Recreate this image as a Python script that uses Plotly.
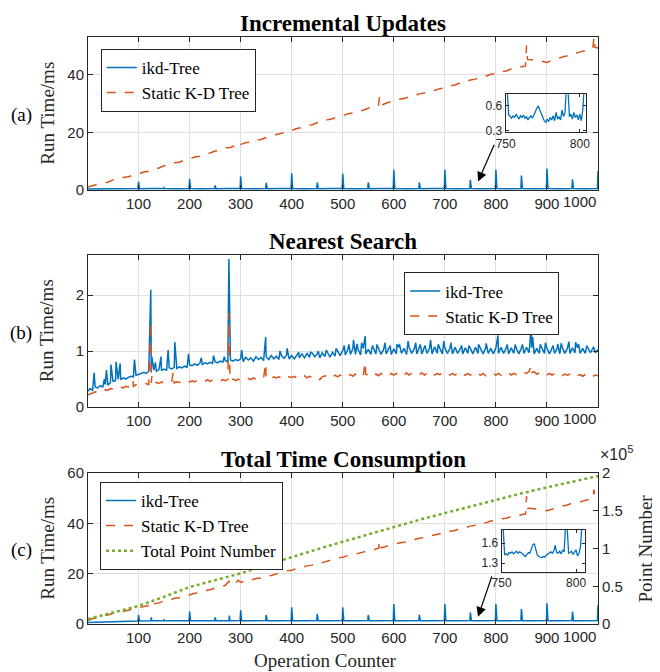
import plotly.graph_objects as go

# ---------------- data ----------------
# (a) Incremental updates
upd_ikd = [(1,0.35),(25,0.4),(50,0.42),(75,0.45),(98,0.45),(99,0.5),(100,2.9),(101,1.6),(102,0.45),
 (125,0.48),(148,0.45),(149,0.5),(150,0.8),(151,0.5),(175,0.46),(198,0.47),(199,0.5),(200,3.9),(201,2.2),(202,0.47),
 (225,0.45),(248,0.46),(249,0.5),(250,1.6),(251,0.9),(252,0.46),(275,0.47),(298,0.46),(299,0.5),(300,4.7),(301,2.6),(302,0.47),
 (325,0.45),(348,0.47),(349,0.5),(350,2.5),(351,1.4),(352,0.46),(375,0.48),(398,0.46),(399,0.5),(400,5.8),(401,3.2),(402,0.47),
 (425,0.45),(448,0.47),(449,0.5),(450,2.6),(451,1.4),(452,0.46),(475,0.47),(498,0.46),(499,0.5),(500,5.7),(501,3.1),(502,0.47),
 (525,0.46),(548,0.47),(549,0.5),(550,2.6),(551,1.4),(552,0.46),(575,0.48),(598,0.46),(599,0.5),(600,7.0),(601,3.8),(602,0.47),
 (625,0.46),(648,0.47),(649,0.5),(650,2.6),(651,1.4),(652,0.46),(675,0.47),(698,0.46),(699,0.5),(700,7.0),(701,3.8),(702,0.47),
 (725,0.46),(748,0.47),(749,0.5),(750,3.5),(751,1.9),(752,0.47),(775,0.45),(798,0.46),(799,0.5),(800,7.0),(801,3.8),(802,0.47),
 (825,0.46),(848,0.47),(849,0.5),(850,5.0),(851,2.7),(852,0.47),(875,0.46),(898,0.47),(899,0.5),(900,7.4),(901,4.0),(902,0.47),
 (925,0.46),(948,0.47),(949,0.5),(950,3.7),(951,2.0),(952,0.47),(975,0.46),(998,0.47),(999,0.5),(1000,6.5)]

upd_static = [(1,1.0),(10,1.5),(20,1.8),(30,2.5),(40,2.7),(50,3.5),(60,3.7),(70,4.3),(80,4.6),(90,5.2),(100,5.5),
 (110,6.2),(120,6.5),(130,7.2),(140,7.6),(150,8.4),(160,8.6),(170,9.4),(180,9.6),(190,10.4),(200,10.7),
 (210,11.4),(220,11.7),(230,12.5),(240,12.8),(250,13.5),(260,13.8),(270,14.6),(280,14.7),(290,15.4),(295,16.6),(300,15.8),
 (310,16.4),(320,16.6),(330,17.3),(340,17.5),(350,18.2),(360,18.5),(370,19.2),(380,19.6),(390,20.3),(400,20.6),
 (410,21.3),(420,21.6),(430,22.3),(440,22.6),(450,23.3),(460,23.6),(470,24.3),(480,24.7),(490,25.4),(500,25.7),
 (510,26.4),(520,26.7),(530,27.3),(540,27.6),(550,28.3),(560,28.6),(570,29.3),(572,32.2),(574,29.5),(580,29.7),(590,30.4),(600,30.7),
 (610,31.4),(620,31.7),(630,32.3),(640,32.6),(650,33.3),(660,33.6),(670,34.2),(680,34.5),(690,35.1),(700,35.4),
 (710,36.1),(720,36.4),(730,37.1),(740,37.4),(750,38.1),(760,38.4),(770,39.1),(780,39.4),(790,40.1),(800,40.4),
 (810,41.0),(820,41.2),(830,41.9),(840,42.1),(850,42.7),(858,43.0),(860,50.0),(862,45.2),(870,45.1),(880,44.7),(890,44.6),(900,44.2),
 (910,44.9),(920,45.3),(930,46.1),(940,46.5),(950,47.3),(960,47.5),(970,48.1),(980,48.4),(990,49.1),(992,53.0),(994,49.4),(1000,49.2)]

inset_a_x = list(range(750, 805))
inset_a_y = [0.85,0.80,0.49,0.47,0.45,0.48,0.46,0.50,0.47,0.44,0.48,0.46,0.49,0.45,0.47,0.43,0.46,0.48,0.45,0.50,
             0.53,0.57,0.60,0.55,0.50,0.47,0.42,0.40,0.44,0.41,0.46,0.43,0.48,0.42,0.52,0.44,0.47,0.43,0.55,0.47,
             0.52,0.85,0.80,0.47,0.50,0.44,0.52,0.46,0.49,0.43,0.50,0.42,0.55,0.85,0.80]

# (b) Nearest search, sampled every 5 operations plus individual spikes
search_x = [1] + list(range(5, 1001, 5))
search_ikd = [0.28,
 0.33,0.30,0.36,0.34,0.38,0.36,0.40,0.39,0.44,0.46, 0.47,0.50,0.49,0.52,0.50,0.53,0.55,0.54,0.57,0.58,
 0.60,0.62,0.60,0.64,0.63,0.66,0.64,0.67,0.65,0.68, 0.66,0.70,0.68,0.71,0.69,0.72,0.70,0.73,0.71,0.75,
 0.74,0.77,0.75,0.78,0.76,0.79,0.77,0.80,0.78,0.81, 0.79,0.82,0.80,0.83,0.81,0.84,0.82,0.85,0.83,0.86,
 0.81,0.89,0.84,0.88,0.82,0.90,0.85,0.89,0.83,0.90, 0.85,0.92,0.86,0.91,0.85,0.92,0.87,0.93,0.86,0.92,
 0.86,0.93,0.88,0.95,0.88,0.96,0.89,0.97,0.90,0.95, 0.88,0.97,0.90,0.98,0.89,0.98,0.91,0.99,0.92,1.01,
 0.93,1.03,0.94,1.05,0.94,1.03,0.93,1.05,0.95,1.03, 0.94,1.05,0.95,1.06,0.94,1.03,0.95,1.06,0.94,1.04,
 0.95,1.07,0.96,1.05,0.94,1.07,0.96,1.04,0.95,1.06, 0.95,1.07,0.96,1.05,0.95,1.08,0.96,1.05,0.95,1.06,
 0.96,1.05,0.95,1.07,0.96,1.04,0.95,1.06,0.96,1.05, 0.95,1.07,0.96,1.05,0.95,1.06,0.96,1.05,0.95,1.06,
 0.96,1.07,0.96,1.05,0.95,1.06,0.96,1.05,0.95,1.06, 0.96,1.07,0.97,1.06,0.95,1.05,0.96,1.06,0.96,1.05,
 0.95,1.06,0.96,1.05,0.95,1.07,0.96,1.05,0.96,1.06, 0.97,1.06,0.96,1.05,0.96,1.07,0.97,1.05,0.97,1.03]
search_static = [0.22,
 0.24,0.25,0.27,0.26,0.29,0.28,0.31,0.30,0.33,0.32, 0.34,0.33,0.36,0.34,0.37,0.36,0.38,0.37,0.40,0.39,
 0.41,0.40,0.42,0.40,0.43,0.41,0.44,0.42,0.45,0.42, 0.44,0.43,0.46,0.43,0.45,0.44,0.46,0.44,0.47,0.45,
 0.47,0.45,0.48,0.46,0.48,0.46,0.49,0.46,0.48,0.47, 0.49,0.46,0.49,0.47,0.49,0.47,0.50,0.47,0.50,0.48,
 0.51,0.49,0.51,0.49,0.52,0.50,0.52,0.50,0.53,0.51, 0.53,0.51,0.54,0.52,0.54,0.52,0.55,0.52,0.54,0.53,
 0.55,0.52,0.55,0.53,0.56,0.52,0.55,0.53,0.56,0.53, 0.49,0.54,0.56,0.54,0.57,0.54,0.57,0.54,0.57,0.55,
 0.58,0.55,0.58,0.55,0.59,0.56,0.58,0.55,0.59,0.56, 0.59,0.56,0.59,0.56,0.60,0.57,0.59,0.56,0.60,0.57,
 0.60,0.57,0.60,0.57,0.61,0.57,0.60,0.58,0.61,0.58, 0.61,0.57,0.60,0.58,0.62,0.57,0.60,0.58,0.61,0.58,
 0.60,0.57,0.60,0.57,0.60,0.56,0.59,0.57,0.60,0.57, 0.60,0.56,0.59,0.57,0.60,0.56,0.59,0.57,0.60,0.57,
 0.60,0.57,0.60,0.58,0.61,0.57,0.60,0.58,0.61,0.59, 0.62,0.60,0.64,0.62,0.63,0.59,0.61,0.58,0.61,0.58,
 0.60,0.57,0.60,0.57,0.59,0.56,0.59,0.57,0.59,0.56, 0.59,0.56,0.58,0.55,0.58,0.55,0.58,0.55,0.57,0.56]
search_ikd_spikes = [(13,0.61),(33,0.50),(37,0.66),(46,0.76),(56,0.81),(64,0.78),(92,0.85),(124,2.1),(126,0.9),
 (133,0.8),(144,0.9),(158,1.02),(171,1.16),(198,0.95),(223,0.88),(247,0.92),(268,0.9),(277,2.65),(279,1.2),
 (302,1.02),(349,1.25),(377,1.0),(391,1.05),(414,0.98),(437,0.98),(452,1.0),(468,1.02),(487,1.05),(503,1.1),
 (512,1.12),(521,1.20),(528,1.13),(537,1.15),(544,1.27),(558,1.1),(567,1.12),(583,1.15),(593,1.1),(606,1.12),
 (611,1.13),(628,1.18),(643,1.15),(652,1.12),(661,1.1),(672,1.20),(687,1.12),(698,1.18),(712,1.15),(733,1.1),
 (747,1.1),(766,1.12),(781,1.14),(804,1.28),(822,1.12),(838,1.12),(852,1.12),(869,1.42),(872,1.25),(887,1.12),
 (897,1.15),(912,1.1),(921,1.13),(928,1.14),(943,1.17),(956,1.16),(962,1.13),(978,1.1),(991,1.08)]
search_static_spikes = [(89,0.48),(124,1.52),(126,0.55),(168,0.62),(277,1.68),(279,0.6),(349,0.78),(544,0.80),(869,0.74)]

# (c) Total time consumption
total_ikd = [(1,0.6),(25,0.7),(50,0.8),(75,0.9),(98,1.1),(99,1.2),(100,3.6),(101,2.0),(102,1.2),(124,1.3),(125,2.6),(126,1.3),
 (148,1.25),(149,1.3),(150,1.9),(151,1.3),(175,1.3),(198,1.25),(199,1.3),(200,5.0),(201,2.8),(202,1.3),(225,1.3),
 (248,1.25),(249,1.3),(250,2.6),(251,1.6),(252,1.3),(277,1.3),(278,3.3),(279,1.3),(298,1.3),(299,1.35),(300,5.5),(301,3.0),(302,1.3),
 (325,1.3),(348,1.3),(349,1.35),(350,3.6),(351,2.0),(352,1.3),(375,1.3),(398,1.3),(399,1.35),(400,6.6),(401,3.6),(402,1.3),
 (425,1.3),(448,1.3),(449,1.35),(450,4.0),(451,2.2),(452,1.3),(475,1.3),(498,1.3),(499,1.35),(500,6.6),(501,3.6),(502,1.3),
 (525,1.3),(548,1.3),(549,1.35),(550,3.6),(551,2.0),(552,1.3),(575,1.3),(598,1.3),(599,1.35),(600,7.9),(601,4.3),(602,1.3),
 (625,1.3),(648,1.3),(649,1.35),(650,3.7),(651,2.0),(652,1.3),(675,1.3),(698,1.3),(699,1.35),(700,7.9),(701,4.3),(702,1.3),
 (725,1.3),(748,1.3),(749,1.35),(750,4.6),(751,2.5),(752,1.3),(775,1.3),(798,1.3),(799,1.35),(800,7.9),(801,4.3),(802,1.3),
 (825,1.3),(848,1.3),(849,1.35),(850,5.9),(851,3.2),(852,1.3),(875,1.3),(898,1.3),(899,1.35),(900,8.2),(901,4.5),(902,1.3),
 (925,1.3),(948,1.3),(949,1.35),(950,4.9),(951,2.7),(952,1.3),(975,1.3),(998,1.3),(999,1.35),(1000,7.5)]

total_static = [(1,1.4),(10,2.2),(20,2.6),(30,3.3),(40,3.6),(50,4.3),(60,4.5),(70,5.1),(80,5.4),(90,6.0),(100,6.3),
 (110,7.0),(120,7.3),(125,8.6),(127,7.5),(130,8.0),(140,8.4),(150,9.2),(160,9.4),(170,10.2),(180,10.4),(190,11.2),(200,11.5),
 (210,12.2),(220,12.5),(230,13.3),(240,13.6),(250,14.3),(260,14.6),(270,15.4),(277,17.0),(279,15.6),(280,15.5),(290,16.2),(295,17.4),(300,16.6),
 (310,17.2),(320,17.4),(330,18.1),(340,18.3),(350,19.0),(360,19.3),(370,20.0),(380,20.4),(390,21.1),(400,21.4),
 (410,22.1),(420,22.4),(430,23.1),(440,23.4),(450,24.1),(460,24.4),(470,25.1),(480,25.5),(490,26.2),(500,26.5),
 (510,27.2),(520,27.5),(530,28.1),(540,28.4),(550,29.1),(560,29.4),(570,30.1),(572,33.0),(574,30.3),(580,30.5),(590,31.2),(600,31.5),
 (610,32.2),(620,32.5),(630,33.1),(640,33.4),(650,34.1),(660,34.4),(670,35.0),(680,35.3),(690,35.9),(700,36.2),
 (710,36.9),(720,37.2),(730,37.9),(740,38.2),(750,38.9),(760,39.2),(770,39.9),(780,40.2),(790,40.9),(800,41.2),
 (810,41.8),(820,42.0),(830,42.7),(840,42.9),(850,43.5),(858,43.8),(860,50.8),(862,46.0),(870,45.9),(880,45.5),(890,45.4),(900,45.0),
 (910,45.7),(920,46.1),(930,46.9),(940,47.3),(950,48.1),(960,48.3),(970,48.9),(980,49.2),(990,49.9),(992,53.4),(994,50.2),(1000,50.0)]

point_x = [1,50,100,150,200,250,300,350,400,450,500,550,600,650,700,750,800,850,900,950,1000]
point_num = [6500,15000,24000,36000,49000,58000,67000,78000,89000,99000,109000,119000,129000,138000,
             147000,156000,165000,173000,181000,189000,196000]

inset_c_x = list(range(750, 806))
inset_c_y = [1.90,1.85,1.43,1.44,1.42,1.46,1.45,1.47,1.44,1.46,1.48,1.45,1.47,1.46,1.44,1.42,1.40,1.43,1.46,1.45,
             1.52,1.58,1.59,1.50,1.42,1.40,1.39,1.38,1.40,1.39,1.42,1.44,1.45,1.47,1.45,1.48,1.57,1.46,1.45,1.48,
             1.44,1.50,1.47,1.90,1.85,1.45,1.46,1.48,1.43,1.46,1.50,1.41,1.45,1.55,1.90,1.85]

x_ticks = [100, 200, 300, 400, 500, 600, 700, 800, 900, 1000]
x_ticktext = ['100', '200', '300', '400', '500', '600', '700', '800', '900', '']
last_tick_label = '1000'

# ---------------- helpers ----------------
BLUE, ORANGE, GREEN = '#0072BD', '#D95319', '#77AC30'
AX = '#262626'
GRID = '#dfdfdf'
SANS = 'Liberation Sans, Arial, sans-serif'
SERIF = 'Liberation Serif, Times New Roman, serif'


def unzip(pairs):
    return [p[0] for p in pairs], [p[1] for p in pairs]


def merge(xs, ys, spikes):
    pts = list(zip(xs, ys)) + list(spikes)
    pts.sort(key=lambda p: p[0])
    return unzip(pts)


fig = go.Figure()

# (a)
x, y = unzip(upd_ikd)
fig.add_trace(go.Scatter(x=x, y=y, mode='lines', name='ikd-Tree', line=dict(color=BLUE, width=1.5),
                         xaxis='x', yaxis='y', legend='legend'))
x, y = unzip(upd_static)
fig.add_trace(go.Scatter(x=x, y=y, mode='lines', name='Static K-D Tree',
                         line=dict(color=ORANGE, width=1.5, dash='dash'), xaxis='x', yaxis='y', legend='legend'))
fig.add_trace(go.Scatter(x=inset_a_x, y=inset_a_y, mode='lines', showlegend=False,
                         line=dict(color=BLUE, width=1.3), xaxis='x4', yaxis='y5'))

# (b)
x, y = merge(search_x, search_ikd, search_ikd_spikes)
fig.add_trace(go.Scatter(x=x, y=y, mode='lines', name='ikd-Tree', line=dict(color=BLUE, width=1.5),
                         xaxis='x2', yaxis='y2', legend='legend2'))
x, y = merge(search_x, search_static, search_static_spikes)
fig.add_trace(go.Scatter(x=x, y=y, mode='lines', name='Static K-D Tree',
                         line=dict(color=ORANGE, width=1.5, dash='dash'), xaxis='x2', yaxis='y2', legend='legend2'))

# (c)
x, y = unzip(total_ikd)
fig.add_trace(go.Scatter(x=x, y=y, mode='lines', name='ikd-Tree', line=dict(color=BLUE, width=1.5),
                         xaxis='x3', yaxis='y3', legend='legend3'))
x, y = unzip(total_static)
fig.add_trace(go.Scatter(x=x, y=y, mode='lines', name='Static K-D Tree',
                         line=dict(color=ORANGE, width=1.5, dash='dash'), xaxis='x3', yaxis='y3', legend='legend3'))
fig.add_trace(go.Scatter(x=point_x, y=point_num, mode='lines', name='Total Point Number',
                         line=dict(color=GREEN, width=2.5, dash='dot'), xaxis='x3', yaxis='y4', legend='legend3'))
fig.add_trace(go.Scatter(x=inset_c_x, y=inset_c_y, mode='lines', showlegend=False,
                         line=dict(color=BLUE, width=1.3), xaxis='x5', yaxis='y6'))


def xaxis(anchor, show_labels=True):
    return dict(domain=[0, 1], anchor=anchor, range=[1, 1000], tickmode='array', tickvals=x_ticks,
                ticktext=x_ticktext, showticklabels=show_labels, showgrid=True, gridcolor=GRID, gridwidth=1,
                showline=True, linecolor=AX, linewidth=1, mirror='ticks', ticks='inside', ticklen=5,
                tickcolor=AX, tickfont=dict(family=SANS, size=15, color=AX), zeroline=False)


def yaxis(anchor, dom, rng, vals, mirror='ticks'):
    return dict(domain=dom, anchor=anchor, range=rng, tickmode='array', tickvals=vals, showgrid=True,
                gridcolor=GRID, gridwidth=1, showline=True, linecolor=AX, linewidth=1, mirror=mirror,
                ticks='inside', ticklen=5, tickcolor=AX, tickfont=dict(family=SANS, size=15, color=AX),
                zeroline=False)


def inset_x(anchor, dom, rng):
    return dict(domain=dom, anchor=anchor, range=rng, tickmode='array', tickvals=[750, 800],
                showgrid=False, showline=True, linecolor=AX, linewidth=1, mirror='ticks', ticks='inside',
                ticklen=3, tickcolor=AX, tickfont=dict(family=SANS, size=12, color=AX), zeroline=False)


def inset_y(anchor, dom, rng, vals):
    return dict(domain=dom, anchor=anchor, range=rng, tickmode='array', tickvals=vals, showgrid=False,
                showline=True, linecolor=AX, linewidth=1, mirror='ticks', ticks='inside', ticklen=3,
                tickcolor=AX, tickfont=dict(family=SANS, size=12, color=AX), zeroline=False)


def legend(xp, yp):
    return dict(x=xp, y=yp, xanchor='left', yanchor='top', bgcolor='white', bordercolor=AX, borderwidth=1,
                font=dict(family=SERIF, size=17, color='black'), tracegroupgap=0, itemclick=False)


# the page body has an 8px margin, so the figure is 8px smaller than the window
fig.update_layout(
    width=652, height=664,
    margin=dict(l=80, r=62, t=29, b=48),
    paper_bgcolor='white', plot_bgcolor='rgba(0,0,0,0)',
    xaxis=xaxis('y'),
    yaxis=yaxis('x', [0.7394, 1.0], [0, 53], [0, 20, 40]),
    xaxis2=xaxis('y2'),
    yaxis2=yaxis('x2', [0.3697, 0.6286], [0, 2.72], [0, 1, 2]),
    xaxis3=xaxis('y3'),
    yaxis3=yaxis('x3', [0.0, 0.2572], [0, 60], [0, 20, 40, 60], mirror=False),
    yaxis4=dict(overlaying='y3', side='right', anchor='x3', range=[0, 200000], tickmode='array',
                tickvals=[0, 50000, 100000, 150000, 200000], ticktext=['0', '0.5', '1', '1.5', '2'],
                showgrid=False, showline=True, linecolor=AX, linewidth=1, ticks='inside', ticklen=5,
                tickcolor=AX, tickfont=dict(family=SANS, size=15, color=AX), zeroline=False),
    xaxis4=inset_x('y5', [0.819, 0.976], [750, 804]),
    yaxis5=inset_y('x4', [0.8376, 0.9024], [0.28, 0.74], [0.3, 0.6]),
    xaxis5=inset_x('y6', [0.811, 0.9745], [750, 806]),
    yaxis6=inset_y('x5', [0.0891, 0.160], [1.17, 1.8], [1.3, 1.6]),
    legend=legend(0.025, 0.9796),
    legend2=legend(0.62, 0.599),
    legend3=legend(0.0235, 0.242),
)

ann = []
# subplot titles
for txt, yp in [('Incremental Updates', 1.023), ('Nearest Search', 0.651), ('Total Time Consumption', 0.281)]:
    ann.append(dict(text='<b>%s</b>' % txt, x=0.5, y=yp, xref='paper', yref='paper', showarrow=False,
                    xanchor='center', yanchor='middle', font=dict(family=SERIF, size=23, color='black')))
# right-aligned last x tick label of each panel
for xr, yr in [('x', 'y domain'), ('x2', 'y2 domain'), ('x3', 'y3 domain')]:
    ann.append(dict(text=last_tick_label, x=1000, y=0, xref=xr, yref=yr, showarrow=False, xanchor='right',
                    yanchor='middle', yshift=-12, font=dict(family=SANS, size=15, color=AX)))
# panel letters and y titles
for letter, yp in [('(a)', 0.867), ('(b)', 0.496), ('(c)', 0.126)]:
    ann.append(dict(text=letter, x=-0.131, y=yp, xref='paper', yref='paper', showarrow=False,
                    xanchor='center', yanchor='middle', font=dict(family=SERIF, size=19, color='black')))
for yp in [0.8697, 0.4992, 0.1286]:
    ann.append(dict(text='Run Time/ms', x=-0.08, y=yp, xref='paper', yref='paper', showarrow=False,
                    textangle=-90, xanchor='center', yanchor='middle',
                    font=dict(family=SERIF, size=19, color=AX)))
ann.append(dict(text='Point Number', x=1.094, y=0.1286, xref='paper', yref='paper', showarrow=False,
                textangle=-90, xanchor='center', yanchor='middle', font=dict(family=SERIF, size=19, color=AX)))
ann.append(dict(text='\u00d710<sup>5</sup>', x=1.0, y=0.292, xref='paper', yref='paper', showarrow=False,
                xanchor='left', yanchor='middle', font=dict(family=SANS, size=16, color=AX)))
ann.append(dict(text='Operation Counter', x=0.465, y=-0.063, xref='paper', yref='paper', showarrow=False,
                xanchor='center', yanchor='middle', font=dict(family=SERIF, size=19, color=AX)))
# arrows pointing to zoomed region
ann.append(dict(x=765, y=2.9, xref='x', yref='y', ax=798, ay=16.2, axref='x', ayref='y', text='',
                showarrow=True, arrowhead=2, arrowsize=1.6, arrowwidth=1.2, arrowcolor='black'))
ann.append(dict(x=765, y=2.9, xref='x3', yref='y3', ax=793, ay=19.5, axref='x3', ayref='y3', text='',
                showarrow=True, arrowhead=2, arrowsize=1.6, arrowwidth=1.2, arrowcolor='black'))
fig.update_layout(annotations=ann)

fig.write_html('out.html')
